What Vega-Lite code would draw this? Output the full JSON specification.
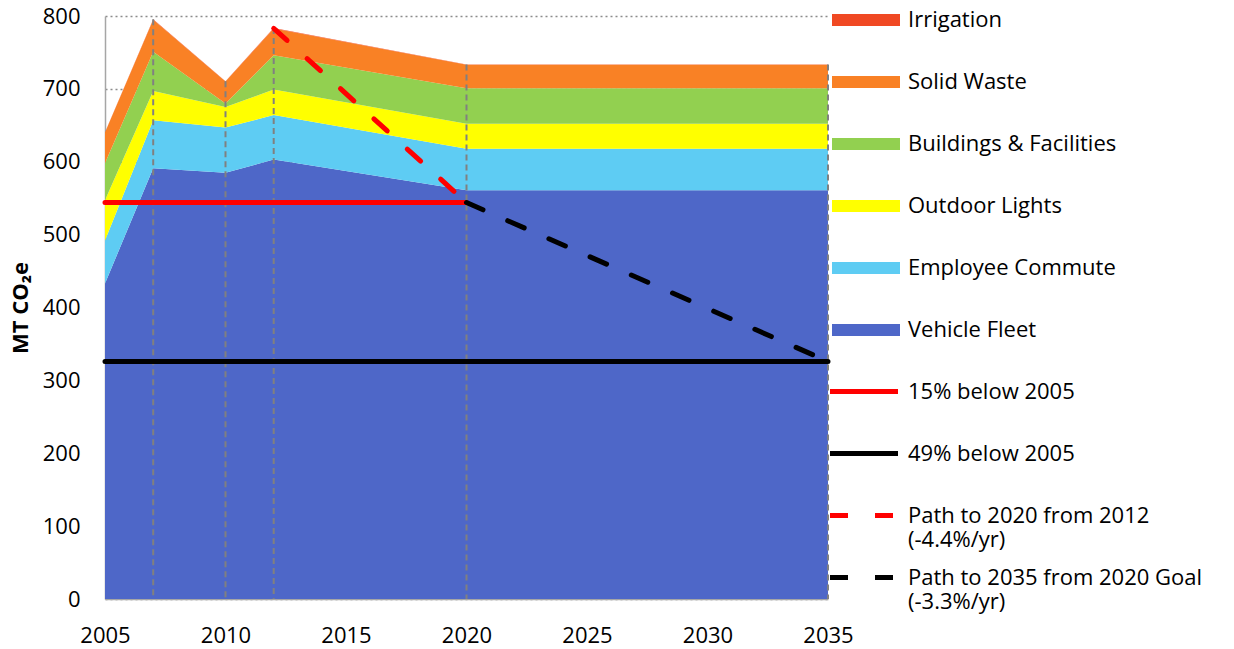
{
  "$schema": "https://vega.github.io/schema/vega-lite/v6.json",
  "width": 723,
  "height": 583,
  "autosize": "none",
  "padding": {"left": 105, "top": 16, "right": 406, "bottom": 50},
  "background": "white",
  "config": {
    "view": {"stroke": null},
    "font": "Open Sans",
    "legend": {
      "orient": "none",
      "title": null,
      "padding": 0,
      "symbolSize": 4624,
      "clipHeight": 20,
      "labelFont": "Open Sans",
      "labelFontSize": 22,
      "labelColor": "#000000",
      "labelLimit": 500,
      "gridAlign": "all"
    }
  },
  "datasets": {
    "areas": [
      {"year": 2005, "series": "Vehicle Fleet", "value": 433, "rank": 1},
      {"year": 2005, "series": "Employee Commute", "value": 59, "rank": 2},
      {"year": 2005, "series": "Outdoor Lights", "value": 55, "rank": 3},
      {"year": 2005, "series": "Buildings & Facilities", "value": 51, "rank": 4},
      {"year": 2005, "series": "Solid Waste", "value": 42, "rank": 5},
      {"year": 2005, "series": "Irrigation", "value": 0.5, "rank": 6},
      {"year": 2007, "series": "Vehicle Fleet", "value": 591, "rank": 1},
      {"year": 2007, "series": "Employee Commute", "value": 66, "rank": 2},
      {"year": 2007, "series": "Outdoor Lights", "value": 40, "rank": 3},
      {"year": 2007, "series": "Buildings & Facilities", "value": 54, "rank": 4},
      {"year": 2007, "series": "Solid Waste", "value": 44, "rank": 5},
      {"year": 2007, "series": "Irrigation", "value": 0.5, "rank": 6},
      {"year": 2010, "series": "Vehicle Fleet", "value": 585, "rank": 1},
      {"year": 2010, "series": "Employee Commute", "value": 62, "rank": 2},
      {"year": 2010, "series": "Outdoor Lights", "value": 28, "rank": 3},
      {"year": 2010, "series": "Buildings & Facilities", "value": 5, "rank": 4},
      {"year": 2010, "series": "Solid Waste", "value": 30, "rank": 5},
      {"year": 2010, "series": "Irrigation", "value": 0.5, "rank": 6},
      {"year": 2012, "series": "Vehicle Fleet", "value": 603, "rank": 1},
      {"year": 2012, "series": "Employee Commute", "value": 61, "rank": 2},
      {"year": 2012, "series": "Outdoor Lights", "value": 35, "rank": 3},
      {"year": 2012, "series": "Buildings & Facilities", "value": 47, "rank": 4},
      {"year": 2012, "series": "Solid Waste", "value": 37, "rank": 5},
      {"year": 2012, "series": "Irrigation", "value": 0.5, "rank": 6},
      {"year": 2020, "series": "Vehicle Fleet", "value": 561, "rank": 1},
      {"year": 2020, "series": "Employee Commute", "value": 57, "rank": 2},
      {"year": 2020, "series": "Outdoor Lights", "value": 34, "rank": 3},
      {"year": 2020, "series": "Buildings & Facilities", "value": 49, "rank": 4},
      {"year": 2020, "series": "Solid Waste", "value": 32, "rank": 5},
      {"year": 2020, "series": "Irrigation", "value": 0.5, "rank": 6},
      {"year": 2035, "series": "Vehicle Fleet", "value": 561, "rank": 1},
      {"year": 2035, "series": "Employee Commute", "value": 57, "rank": 2},
      {"year": 2035, "series": "Outdoor Lights", "value": 34, "rank": 3},
      {"year": 2035, "series": "Buildings & Facilities", "value": 49, "rank": 4},
      {"year": 2035, "series": "Solid Waste", "value": 32, "rank": 5},
      {"year": 2035, "series": "Irrigation", "value": 0.5, "rank": 6}
    ],
    "lines": [
      {"year": 2005, "series": "15% below 2005", "value": 544},
      {"year": 2020, "series": "15% below 2005", "value": 544},
      {"year": 2005, "series": "49% below 2005", "value": 326},
      {"year": 2035, "series": "49% below 2005", "value": 326},
      {"year": 2012, "series": "Path to 2020 from 2012 (-4.4%/yr)", "value": 783},
      {"year": 2020, "series": "Path to 2020 from 2012 (-4.4%/yr)", "value": 544},
      {"year": 2020, "series": "Path to 2035 from 2020 Goal (-3.3%/yr)", "value": 544},
      {"year": 2035, "series": "Path to 2035 from 2020 Goal (-3.3%/yr)", "value": 326}
    ]
  },
  "encoding": {
    "x": {
      "field": "year",
      "type": "quantitative",
      "scale": {"domain": [2005, 2035], "nice": false, "zero": false},
      "axis": {
        "title": null,
        "values": [2005, 2010, 2015, 2020, 2025, 2030, 2035],
        "format": "d",
        "grid": false,
        "ticks": false,
        "tickSize": 0,
        "labelFont": "Open Sans",
        "labelFontSize": 22,
        "labelColor": "#000000",
        "labelPadding": 26,
        "labelBaseline": "top",
        "labelFlush": false,
        "labelOverlap": false,
        "domainColor": "#a6a6a6",
        "domainWidth": 1.5
      }
    }
  },
  "layer": [
    {
      "data": {"name": "areas"},
      "mark": {"type": "area", "opacity": 1},
      "encoding": {
        "y": {
          "field": "value",
          "type": "quantitative",
          "stack": "zero",
          "scale": {"domain": [0, 800], "nice": false},
          "axis": {
            "title": "MT CO₂e",
            "titleFont": "Open Sans",
            "titleFontSize": 22,
            "titleFontWeight": "bold",
            "titleColor": "#000000",
            "titlePadding": 10,
            "values": [0, 100, 200, 300, 400, 500, 600, 700, 800],
            "ticks": false,
            "tickSize": 0,
            "labelFont": "Open Sans",
            "labelFontSize": 22,
            "labelColor": "#000000",
            "labelPadding": 25,
            "grid": true,
            "gridColor": "#8c8c8c",
            "gridDash": [2, 3],
            "gridWidth": 1.5,
            "domainColor": "#a6a6a6",
            "domainWidth": 1.5
          }
        },
        "fill": {
          "field": "series",
          "type": "nominal",
          "scale": {
            "domain": [
              "Irrigation",
              "Solid Waste",
              "Buildings & Facilities",
              "Outdoor Lights",
              "Employee Commute",
              "Vehicle Fleet"
            ],
            "range": ["#F04923", "#F98125", "#92D050", "#FFFF00", "#5ECCF3", "#4E67C8"]
          },
          "legend": {
            "legendX": 727,
            "legendY": -6,
            "symbolStrokeWidth": 0,
            "symbolType": "M-1,-0.18H1V0.18H-1Z",
            "labelBaseline": "middle",
            "labelOffset": 8,
            "rowPadding": 40
          }
        },
        "order": {"field": "rank", "type": "quantitative"}
      }
    },
    {
      "data": {"name": "areas"},
      "transform": [
        {"aggregate": [{"op": "sum", "field": "value", "as": "total"}], "groupby": ["year"]},
        {"filter": "datum.year > 2005"}
      ],
      "mark": {"type": "rule", "color": "#808080", "strokeWidth": 2, "strokeDash": [6, 4]},
      "encoding": {
        "y": {"field": "total", "type": "quantitative"},
        "y2": {"datum": 0}
      }
    },
    {
      "data": {"name": "lines"},
      "mark": {"type": "line", "strokeWidth": 5, "strokeCap": "round"},
      "encoding": {
        "y": {"field": "value", "type": "quantitative"},
        "stroke": {
          "field": "series",
          "type": "nominal",
          "scale": {
            "domain": [
              "15% below 2005",
              "49% below 2005",
              "Path to 2020 from 2012 (-4.4%/yr)",
              "Path to 2035 from 2020 Goal (-3.3%/yr)"
            ],
            "range": ["#FF0000", "#000000", "#FF0000", "#000000"]
          },
          "legend": {
            "legendX": 722.5,
            "legendY": 356,
            "symbolStrokeWidth": 5,
            "symbolType": "M-1,0.28H1",
            "labelBaseline": "top",
            "labelOffset": 7.5,
            "rowPadding": 7,
            "labelExpr": "split(replace(datum.label, ' (', '|('), '|')"
          }
        },
        "strokeDash": {
          "field": "series",
          "type": "nominal",
          "scale": {
            "domain": [
              "15% below 2005",
              "49% below 2005",
              "Path to 2020 from 2012 (-4.4%/yr)",
              "Path to 2035 from 2020 Goal (-3.3%/yr)"
            ],
            "range": [[1, 0], [1, 0], [18, 27], [18, 27]]
          },
          "legend": {
            "legendX": 722.5,
            "legendY": 356,
            "symbolStrokeWidth": 5,
            "symbolType": "M-1,0.28H1",
            "labelBaseline": "top",
            "labelOffset": 7.5,
            "rowPadding": 7,
            "labelExpr": "split(replace(datum.label, ' (', '|('), '|')"
          }
        }
      }
    }
  ]
}
